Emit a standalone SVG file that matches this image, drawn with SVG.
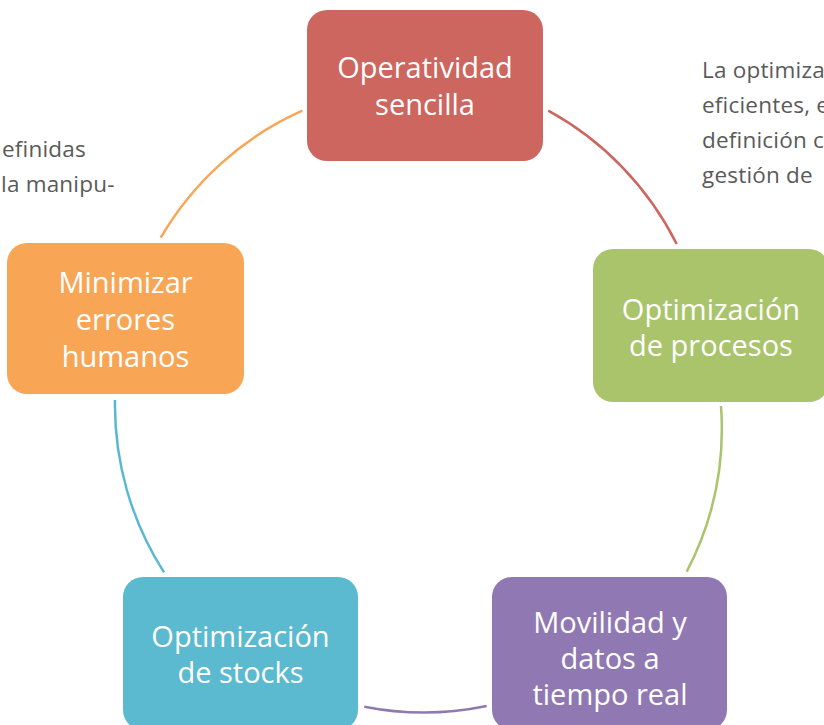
<svg xmlns="http://www.w3.org/2000/svg" width="824" height="725" viewBox="0 0 824 725">
<style>
  .node rect { rx: 20px; ry: 20px; }
  .lbl { font-family: "Open Sans", "Noto Sans", "Liberation Sans", sans-serif; font-size: 29px; fill: #ffffff; text-anchor: middle; }
  .side { font-family: "Open Sans", "Noto Sans", "Liberation Sans", sans-serif; font-size: 22.5px; fill: #5a5a5a; letter-spacing: 0.2px; }
  .arc { fill: none; stroke-width: 2.5; stroke-linecap: butt; }
</style>
<rect width="824" height="725" fill="#ffffff"/>
<g id="side-text">
  <text class="side" x="2" y="157">efinidas</text>
  <text class="side" x="1" y="192">la manipu-</text>
  <text class="side" x="702" y="78">La optimiza</text>
  <text class="side" x="702" y="113">eficientes, e</text>
  <text class="side" x="702" y="148">definición c</text>
  <text class="side" x="702" y="183">gestión de</text>
</g>
<g id="connectors">
  <path class="arc" stroke="#F8A656" d="M160.7,237.7 A310,310 0 0 1 302.3,110.7"/>
  <path class="arc" stroke="#CD665E" d="M548.3,110.7 A310,310 0 0 1 676.7,244"/>
  <path class="arc" stroke="#A9C46A" d="M721,406 A310,310 0 0 1 686.7,571.7"/>
  <path class="arc" stroke="#8E79B1" d="M486.7,706 A310,310 0 0 1 364.3,706.7"/>
  <path class="arc" stroke="#5AB9D0" d="M164,572.3 A310,310 0 0 1 115,400"/>
</g>
<g id="node-operatividad" class="node">
  <rect x="307" y="10" width="236" height="151" fill="#CD665E"/>
  <text class="lbl" x="425" y="78">Operatividad</text>
  <text class="lbl" x="425" y="115">sencilla</text>
</g>
<g id="node-procesos" class="node">
  <rect x="593" y="249" width="236" height="153" fill="#AAC46B"/>
  <text class="lbl" x="711" y="320">Optimización</text>
  <text class="lbl" x="711" y="356">de procesos</text>
</g>
<g id="node-movilidad" class="node">
  <rect x="492" y="577" width="235" height="153" fill="#9079B2"/>
  <text class="lbl" x="610" y="633">Movilidad y</text>
  <text class="lbl" x="610" y="669">datos a</text>
  <text class="lbl" x="610" y="705">tiempo real</text>
</g>
<g id="node-stocks" class="node">
  <rect x="123" y="577" width="235" height="153" fill="#5BB9D0"/>
  <text class="lbl" x="240.5" y="647">Optimización</text>
  <text class="lbl" x="240.5" y="683">de stocks</text>
</g>
<g id="node-errores" class="node">
  <rect x="7" y="243" width="237" height="151" fill="#F8A656"/>
  <text class="lbl" x="125.5" y="293">Minimizar</text>
  <text class="lbl" x="125.5" y="330">errores</text>
  <text class="lbl" x="125.5" y="367">humanos</text>
</g>
</svg>
